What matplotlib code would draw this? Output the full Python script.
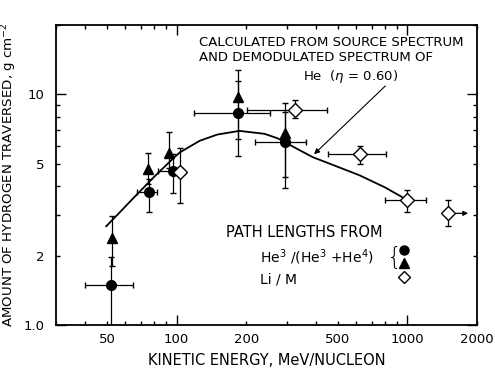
import matplotlib.pyplot as plt
from matplotlib.ticker import FuncFormatter, LogLocator

# Path lengths from He3/(He3+He4), circles: energy, value, x range, y range
circ_e = [52, 75.5, 96, 184, 294]
circ_v = [1.49, 3.77, 4.64, 8.3, 6.2]
circ_xlo = [40, 67, 83, 118.5, 218]
circ_xhi = [65, 82, 105, 253, 365]
circ_ylo = [0.9, 3.08, 3.74, 5.39, 4.38]
circ_yhi = [1.98, 4.3, 5.5, 11.4, 8.4]

# triangles
tri_e = [52.5, 75, 93, 184, 296]
tri_v = [2.38, 4.73, 5.57, 9.73, 6.79]
tri_ylo = [1.80, 4.1, 4.8, 6.4, 3.92]
tri_yhi = [2.96, 5.57, 6.85, 12.8, 9.17]

# Li/M diamonds
dia_e = [103, 324, 620, 998, 1494]
dia_v = [4.6, 8.6, 5.5, 3.47, 3.05]
dia_xlo = [97, 201, 451, 800, 1494]
dia_xhi = [108, 446, 803, 1206, 1494]
dia_ylo = [3.37, 7.9, 5.01, 3.09, 2.68]
dia_yhi = [5.83, 9.5, 5.97, 3.87, 3.47]
arrow_to = 1883

# calculated curve
curve_e = [49.5, 57, 64.7, 80, 95, 103, 126, 150, 187, 240, 274, 318, 388, 500, 620, 800, 990]
curve_v = [2.68, 3.1, 3.54, 4.4, 5.2, 5.6, 6.3, 6.7, 6.95, 6.75, 6.45, 5.95, 5.35, 4.85, 4.46, 3.95, 3.5]

fig = plt.figure(figsize=(4.95, 3.74), dpi=100)
ax = fig.add_axes([0.1131, 0.131, 0.8505, 0.802])
ax.set_xscale('log')
ax.set_yscale('log')

ax.plot(curve_e, curve_v, color='black', lw=1.3)


def asym(v, lo, hi):
    return [[a - b for a, b in zip(v, lo)], [b - a for a, b in zip(v, hi)]]


ax.errorbar(circ_e, circ_v, yerr=asym(circ_v, circ_ylo, circ_yhi),
            xerr=asym(circ_e, circ_xlo, circ_xhi), fmt='o', color='black',
            ms=7, elinewidth=0.9, capsize=2, zorder=3)
ax.errorbar(tri_e, tri_v, yerr=asym(tri_v, tri_ylo, tri_yhi), fmt='^',
            color='black', ms=7, elinewidth=0.9, capsize=2, zorder=3)
ax.errorbar(dia_e, dia_v, yerr=asym(dia_v, dia_ylo, dia_yhi),
            xerr=asym(dia_e, dia_xlo, dia_xhi), fmt='D', mfc='white',
            mec='black', mew=1.0, color='black', ms=7, elinewidth=0.9,
            capsize=2, zorder=3)
ax.annotate('', xy=(arrow_to, dia_v[-1]), xytext=(dia_e[-1] * 1.06, dia_v[-1]),
            arrowprops=dict(arrowstyle='-|>', color='black', lw=0.9,
                            mutation_scale=7))

ax.set_xlim(30, 2000)
ax.set_ylim(1, 20)

x_labels = {50: '50', 100: '100', 200: '200', 500: '500', 1000: '1000', 2000: '2000'}
y_labels = {1: '1.0', 2: '2', 5: '5', 10: '10'}


def xfmt(v, pos):
    return x_labels.get(int(round(v)), '')


def yfmt(v, pos):
    return y_labels.get(int(round(v)), '')


for axis, fmt in ((ax.xaxis, xfmt), (ax.yaxis, yfmt)):
    axis.set_major_locator(LogLocator(base=10))
    axis.set_minor_locator(LogLocator(base=10, subs=range(2, 10)))
    axis.set_major_formatter(FuncFormatter(fmt))
    axis.set_minor_formatter(FuncFormatter(fmt))

ax.tick_params(which='both', direction='in', top=True, right=True,
               labelsize=9.5, width=1.0)
ax.tick_params(which='major', length=7)
ax.tick_params(which='minor', length=3)
ax.tick_params(axis='x', which='both', pad=6)
ax.tick_params(axis='y', which='both', pad=8)
for s in ax.spines.values():
    s.set_linewidth(1.3)

ax.set_xlabel('KINETIC ENERGY, MeV/NUCLEON', fontsize=10.5, labelpad=5)
ax.set_ylabel('AMOUNT OF HYDROGEN TRAVERSED, g cm$^{-2}$', fontsize=9.6)
ax.yaxis.set_label_coords(-0.088, 0.5)

# annotation for calculated curve
ax.text(0.34, 0.965, 'CALCULATED FROM SOURCE SPECTRUM\nAND DEMODULATED SPECTRUM OF',
        transform=ax.transAxes, fontsize=9.5, va='top', ha='left', linespacing=1.2)
ax.text(0.587, 0.83, 'He  ($\\eta$ = 0.60)', transform=ax.transAxes, fontsize=9.5,
        va='center', ha='left')
ax.annotate('', xy=(386, 5.4), xytext=(818, 11.1),
            arrowprops=dict(arrowstyle='-|>', color='black', lw=0.8,
                            mutation_scale=8))

# legend block
ax.text(0.405, 0.307, 'PATH LENGTHS FROM', transform=ax.transAxes, fontsize=10.5,
        va='center', ha='left')
ax.text(0.485, 0.227, 'He$^3$ /(He$^3$ +He$^4$)', transform=ax.transAxes,
        fontsize=10, va='center', ha='left')
ax.text(0.485, 0.153, 'Li / M', transform=ax.transAxes, fontsize=10,
        va='center', ha='left')
ax.text(0.805, 0.222, '{', transform=ax.transAxes, fontsize=17, va='center',
        ha='center', fontweight='light')
ax.plot([0.827], [0.25], 'o', color='black', ms=6.5, transform=ax.transAxes)
ax.plot([0.827], [0.207], '^', color='black', ms=6.5, transform=ax.transAxes)
ax.plot([0.827], [0.16], 'D', mfc='white', mec='black', ms=6.5,
        transform=ax.transAxes)

fig.savefig('out.png', dpi=100)
